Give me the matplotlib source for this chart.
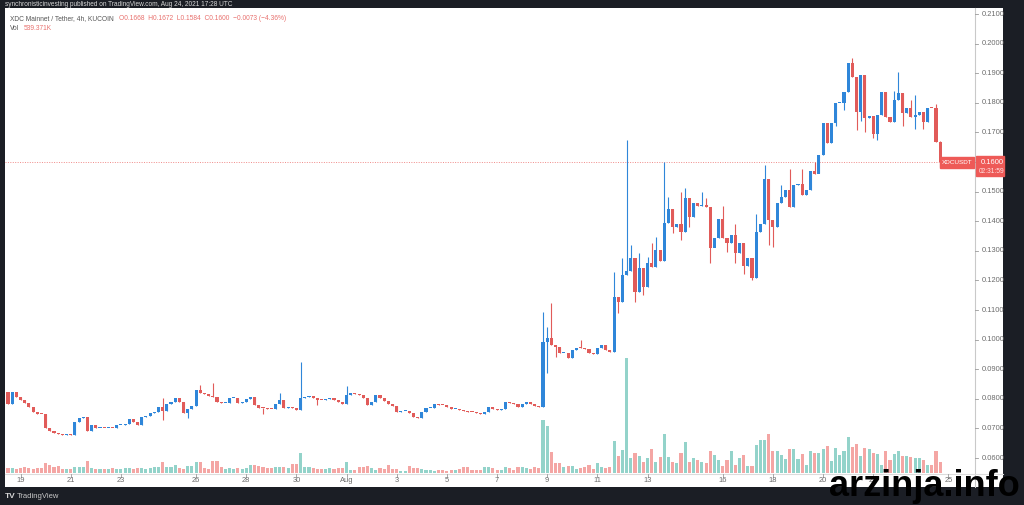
import numpy as np
import matplotlib.pyplot as plt
from matplotlib.patches import Rectangle

plt.rcParams['font.family'] = ['Liberation Sans', 'DejaVu Sans']

# XDC/USDT 4h candles, Jul 18 12:00 -> Aug 24 16:00 (UTC)
first_open = 0.0824
closes = [
    0.0781, 0.0824, 0.0807, 0.0795, 0.0785, 0.0772, 0.0756, 0.0750, 0.0748, 0.0700,
    0.0690, 0.0683, 0.0680, 0.0679, 0.0681, 0.0676, 0.0723, 0.0735, 0.0740, 0.0690,
    0.0710, 0.0702, 0.0702, 0.0701, 0.0702, 0.0700, 0.0710, 0.0711, 0.0714, 0.0731,
    0.0722, 0.0710, 0.0737, 0.0743, 0.0752, 0.0757, 0.0772, 0.0758, 0.0781, 0.0790,
    0.0801, 0.0790, 0.0753, 0.0767, 0.0775, 0.0830, 0.0819, 0.0816, 0.0810, 0.0805,
    0.0790, 0.0786, 0.0787, 0.0801, 0.0801, 0.0785, 0.0790, 0.0800, 0.0805, 0.0779,
    0.0770, 0.0768, 0.0767, 0.0766, 0.0781, 0.0797, 0.0768, 0.0771, 0.0770, 0.0763,
    0.0802, 0.0805, 0.0808, 0.0802, 0.0797, 0.0795, 0.0798, 0.0802, 0.0795, 0.0790,
    0.0784, 0.0813, 0.0818, 0.0816, 0.0814, 0.0802, 0.0779, 0.0790, 0.0813, 0.0804,
    0.0792, 0.0781, 0.0777, 0.0756, 0.0758, 0.0758, 0.0751, 0.0740, 0.0734, 0.0756,
    0.0768, 0.0770, 0.0782, 0.0779, 0.0778, 0.0773, 0.0766, 0.0767, 0.0761, 0.0759,
    0.0756, 0.0754, 0.0752, 0.0749, 0.0757, 0.0773, 0.0767, 0.0761, 0.0764, 0.0790,
    0.0786, 0.0782, 0.0772, 0.0781, 0.0790, 0.0781, 0.0775, 0.0771, 0.0993, 0.1004,
    0.0982, 0.0976, 0.0954, 0.0956, 0.0937, 0.0965, 0.0973, 0.0970, 0.0967, 0.0956,
    0.0951, 0.0970, 0.0982, 0.0965, 0.0959, 0.1145, 0.1128, 0.1218, 0.1233, 0.1274,
    0.1162, 0.1241, 0.1179, 0.1258, 0.1246, 0.1303, 0.1266, 0.1393, 0.1441, 0.1382,
    0.1390, 0.1365, 0.1477, 0.1413, 0.1460, 0.1451, 0.1454, 0.1449, 0.1308, 0.1342,
    0.1409, 0.1342, 0.1325, 0.1353, 0.1291, 0.1327, 0.1248, 0.1274, 0.1207, 0.1364,
    0.1390, 0.1541, 0.1404, 0.1381, 0.1462, 0.1482, 0.1507, 0.1449, 0.1522, 0.1526,
    0.1488, 0.1505, 0.1570, 0.1559, 0.1623, 0.1732, 0.1665, 0.1733, 0.1798, 0.1800,
    0.1837, 0.1935, 0.1888, 0.1770, 0.1894, 0.1747, 0.1755, 0.1696, 0.1758, 0.1837,
    0.1753, 0.1736, 0.1811, 0.1832, 0.1764, 0.1784, 0.1753, 0.1758, 0.1770, 0.1736,
    0.1784, 0.1783, 0.1668, 0.1600,
]
# wicks that stick out of the body (candle index -> price)
highs = {37: 0.0801, 46: 0.0846, 49: 0.0852, 65: 0.0818, 70: 0.0925, 81: 0.0842,
         128: 0.1094, 129: 0.1044, 130: 0.1123, 137: 0.0999, 145: 0.1230, 147: 0.1274,
         148: 0.1674, 149: 0.1319, 151: 0.1291, 153: 0.1280, 154: 0.1325, 155: 0.1348,
         157: 0.1601, 158: 0.1483, 161: 0.1500, 162: 0.1511, 166: 0.1500, 167: 0.1478,
         171: 0.1450, 174: 0.1390, 179: 0.1426, 181: 0.1590, 185: 0.1522, 187: 0.1578,
         190: 0.1578, 193: 0.1600, 202: 0.1950, 212: 0.1840, 213: 0.1905, 216: 0.1810,
         217: 0.1825, 222: 0.1795, 223: 0.1672}
lows = {37: 0.0728, 43: 0.0734, 61: 0.0750, 74: 0.0780, 129: 0.0887, 131: 0.0940,
        146: 0.1089, 150: 0.1128, 152: 0.1150, 159: 0.1359, 161: 0.1337, 163: 0.1380,
        168: 0.1258, 169: 0.1320, 172: 0.1295, 174: 0.1260, 176: 0.1220, 178: 0.1200,
        182: 0.1320, 183: 0.1314, 194: 0.1563, 198: 0.1720, 200: 0.1775, 203: 0.1708,
        204: 0.1740, 205: 0.1700, 207: 0.1680, 208: 0.1675, 214: 0.1720, 217: 0.1710,
        219: 0.1712, 223: 0.1584}
# volume in thousands of XDC
volumes = [
    250, 250, 200, 250, 300, 250, 200, 250, 250, 500, 400, 300, 350, 200, 200, 200,
    300, 300, 300, 600, 250, 200, 200, 200, 200, 250, 200, 200, 250, 250, 200, 250,
    250, 200, 250, 300, 300, 550, 300, 300, 400, 250, 200, 350, 350, 550, 550, 250,
    200, 600, 600, 300, 200, 250, 200, 250, 200, 250, 400, 400, 350, 300, 250, 250,
    300, 300, 300, 250, 450, 450, 1000, 300, 300, 250, 200, 200, 200, 250, 200, 250,
    250, 550, 150, 150, 300, 300, 350, 250, 150, 250, 200, 400, 200, 200, 100, 100,
    350, 250, 250, 200, 150, 150, 100, 150, 150, 100, 150, 150, 200, 300, 300, 150,
    150, 150, 300, 300, 250, 150, 150, 300, 250, 150, 300, 300, 250, 200, 300, 250,
    2650, 2350, 1050, 500, 500, 300, 350, 350, 200, 250, 300, 400, 200, 500, 300, 250,
    300, 1600, 850, 1150, 5750, 750, 1000, 850, 550, 750, 1200, 550, 800, 1950, 800, 550,
    500, 1000, 1550, 550, 750, 650, 550, 500, 1100, 900, 650, 350, 650, 1100, 400, 750,
    900, 350, 350, 1400, 1650, 1650, 1950, 1100, 1100, 900, 700, 1200, 1200, 700, 950, 400,
    1100, 1000, 1000, 1200, 1350, 600, 1250, 900, 1100, 1800, 1300, 1450, 850, 1250, 1200, 1000,
    950, 400, 1100, 650, 950, 1100, 850, 850, 800, 750, 750, 650, 400, 400, 1100, 539,
]
price_ticks = [0.06, 0.07, 0.08, 0.09, 0.10, 0.11, 0.12, 0.13, 0.14, 0.15,
               0.16, 0.17, 0.18, 0.19, 0.20, 0.21]
date_labels = ['19', '21', '23', '26', '28', '30', 'Aug', '3', '5', '7', '9',
               '11', '13', '16', '18', '20', '22', '25']
date_days = [19, 21, 23, 26, 28, 30, 32, 34, 36, 38, 40, 42, 44, 47, 49, 51, 53, 56]  # days from Jul 1
last_price = 0.1600

W, H = 1024, 505
def box(x0, y0, x1, y1):
    return [x0 / W, 1 - y1 / H, (x1 - x0) / W, (y1 - y0) / H]

closes = np.array(closes)
opens = np.concatenate([[first_open], closes[:-1]])
n = len(closes)
idx = np.arange(n)
up = closes >= opens
hi = np.maximum(opens, closes)
lo = np.minimum(opens, closes)
for k, v in highs.items():
    hi[k] = v
for k, v in lows.items():
    lo[k] = v

c_up, c_dn = '#2f86d9', '#e15b59'
v_up, v_dn = '#93d3ca', '#f4a6a4'

fig = plt.figure(figsize=(W / 100, H / 100), dpi=100, facecolor='#1b1e25')
bg = fig.add_axes(box(5, 8, 1003, 487))
bg.set_facecolor('white')
bg.set_xticks([]); bg.set_yticks([])
for s in bg.spines.values():
    s.set_visible(False)

# main price axes (x in candle index units, 4h per step)
ax = fig.add_axes(box(5, 8, 975, 474))
x_left, x_right = -0.72, 231.34
ax.set_xlim(x_left, x_right)
ax.set_ylim(0.05459, 0.21203)
ax.axis('off')

# volume overlay
axv = fig.add_axes(box(5, 8, 975, 474), sharex=ax)
axv.set_ylim(-50, 23250)
axv.axis('off')
axv.patch.set_alpha(0)
axv.bar(idx, volumes, width=0.74, color=np.where(up, v_up, v_dn), zorder=1)

# candles on top
ax.set_zorder(axv.get_zorder() + 1)
ax.patch.set_alpha(0)
cols = np.where(up, c_up, c_dn)
ax.vlines(idx, lo, hi, colors=cols, lw=0.8, zorder=2)
body = np.maximum(np.abs(closes - opens), 0.00035)
ax.bar(idx, body, bottom=np.minimum(opens, closes), width=0.74, color=cols, zorder=3)

# last price line
ax.axhline(last_price, xmax=(n - 1 - x_left) / (x_right - x_left), color='#f08a88',
           lw=0.7, ls=(0, (1, 1.5)), zorder=1)

# axes lines
fig.add_artist(plt.Line2D([975 / W, 975 / W], [1 - 487 / H, 1 - 8 / H], color='#c9c9c9', lw=0.8))
fig.add_artist(plt.Line2D([5 / W, 1003 / W], [1 - 474 / H, 1 - 474 / H], color='#dcdcdc', lw=0.8))

# price ticks
def py(p):
    return 162 - (p - 0.16) * 2960
for p in price_ticks:
    y = py(p)
    fig.add_artist(plt.Line2D([975 / W, 978 / W], [1 - y / H] * 2, color='#9a9a9a', lw=0.6))
    fig.text(982 / W, 1 - y / H, f'{p:.4f}', fontsize=5.4, color='#6b6b6b', va='center', ha='left')

# date ticks
for d, lab in zip(date_days, date_labels):
    i = (d - 18.5) * 6
    x = 5 + (i - x_left) / (x_right - x_left) * 970
    fig.add_artist(plt.Line2D([x / W] * 2, [1 - 474 / H, 1 - 476.5 / H], color='#9a9a9a', lw=0.6))
    fig.text(x / W, 1 - 480.5 / H, lab, fontsize=5.4, color='#6b6b6b', ha='center', va='center')

# last price tags
fig.patches.append(Rectangle((940 / W, 1 - 168 / H), 34 / W, 11 / H, transform=fig.transFigure,
                             color='#ee5a57', zorder=5))
fig.text(957 / W, 1 - 162.5 / H, 'XDCUSDT', fontsize=4.6, color='white', ha='center', va='center', zorder=6)
fig.patches.append(Rectangle((976 / W, 1 - 176 / H), 28 / W, 20 / H, transform=fig.transFigure,
                             color='#ee5a57', zorder=5))
fig.text(981 / W, 1 - 162 / H, f'{last_price:.4f}', fontsize=5.4, color='white', va='center', zorder=6)
fig.text(979 / W, 1 - 171 / H, '02:31:59', fontsize=4.8, color='#ffe2e2', va='center', zorder=6)

# header / legend
fig.text(5 / W, 1 - 4 / H, 'synchronisticinvesting published on TradingView.com, Aug 24, 2021 17:28 UTC',
         fontsize=4.7, color='#d6d6d6', va='center')
fig.text(10 / W, 1 - 19 / H, 'XDC Mainnet / Tether, 4h, KUCOIN', fontsize=4.8, color='#555555', va='center')
fig.text(119 / W, 1 - 19 / H, 'O0.1668  H0.1672  L0.1584  C0.1600  \u22120.0073 (\u22124.36%)',
         fontsize=4.8, color='#e8716e', va='center')
fig.text(10 / W, 1 - 29 / H, 'Vol', fontsize=4.8, color='#555555', va='center')
fig.text(24 / W, 1 - 29 / H, '539.371K', fontsize=4.8, color='#e8716e', va='center')

# footer
fig.text(5 / W, 1 - 497 / H, 'TV', fontsize=6, color='#d6d6d6', weight='bold', va='center')
fig.text(17 / W, 1 - 497 / H, 'TradingView', fontsize=5.5, color='#c8c8c8', va='center')
fig.text(1020 / W, 1 - 487 / H, 'arzinja.info', fontsize=26, family='Liberation Sans',
         weight='heavy', color='black', ha='right', va='center', zorder=10)

fig.savefig('out.png', dpi=100, facecolor=fig.get_facecolor())
